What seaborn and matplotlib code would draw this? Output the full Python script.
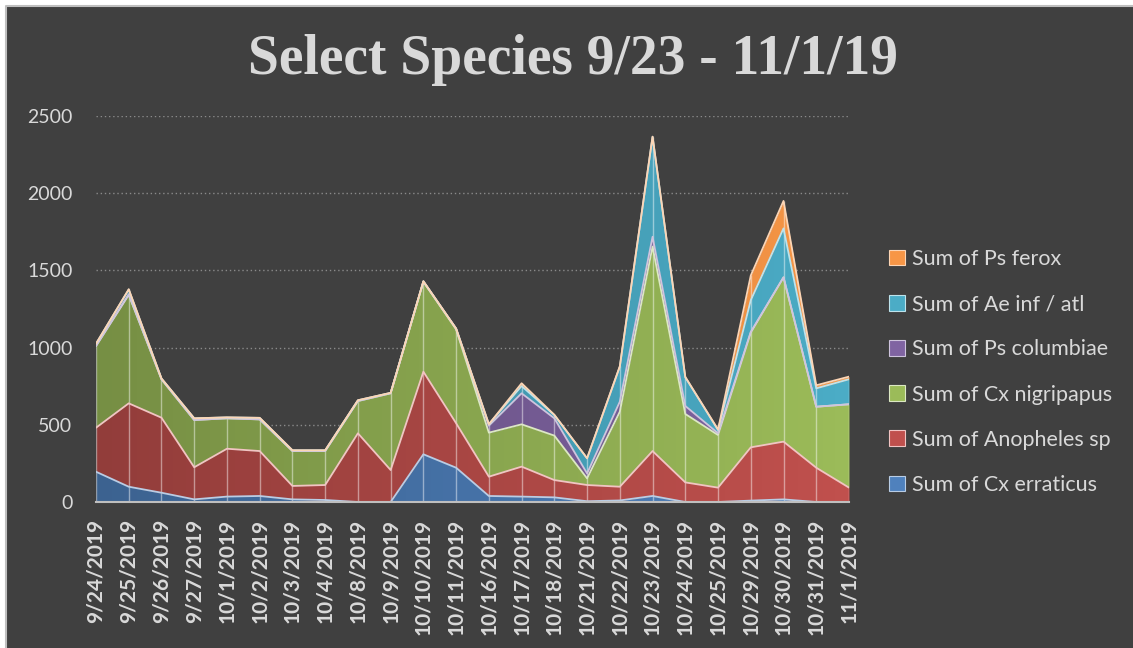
import numpy as np
import pandas as pd
import matplotlib
matplotlib.use("Agg")
import matplotlib.pyplot as plt
import seaborn as sns
from matplotlib.patches import Rectangle, Patch, Polygon
from matplotlib.lines import Line2D

# === Data ===
dates = ["9/24/2019", "9/25/2019", "9/26/2019", "9/27/2019", "10/1/2019", "10/2/2019",
         "10/3/2019", "10/4/2019", "10/8/2019", "10/9/2019", "10/10/2019", "10/11/2019",
         "10/16/2019", "10/17/2019", "10/18/2019", "10/21/2019", "10/22/2019", "10/23/2019",
         "10/24/2019", "10/25/2019", "10/29/2019", "10/30/2019", "10/31/2019", "11/1/2019"]

cx_erraticus   = [196, 99, 60, 17, 35, 39, 17, 13, 0, 0, 309, 222,
                  39, 35, 30, 5, 10, 39, 0, 0, 9, 17, 0, 0]
anopheles_sp   = [285, 540, 486, 208, 310, 291, 87, 97, 445, 207, 535, 288,
                  125, 194, 112, 105, 89, 291, 127, 93, 345, 374, 222, 93]
cx_nigripapus  = [529, 702, 249, 306, 197, 205, 226, 220, 209, 497, 583, 608,
                  285, 274, 288, 43, 486, 1324, 443, 341, 743, 1064, 395, 540]
ps_columbiae   = [0, 5, 0, 0, 0, 0, 0, 0, 0, 0, 0, 5,
                  45, 201, 112, 32, 65, 64, 52, 11, 5, 0, 0, 0]
ae_inf_atl     = [15, 30, 5, 11, 6, 10, 5, 5, 5, 3, 3, 0,
                  10, 47, 21, 98, 226, 648, 186, 21, 205, 317, 119, 162]
ps_ferox       = [0, 2, 0, 0, 0, 0, 0, 0, 0, 0, 0, 0,
                  0, 18, 2, 0, 4, 0, 2, 4, 160, 178, 20, 17]

series_names = ["Sum of Cx erraticus", "Sum of Anopheles sp", "Sum of Cx nigripapus",
                "Sum of Ps columbiae", "Sum of Ae inf / atl", "Sum of Ps ferox"]
fill_colors = ["#4F81BD", "#C0504D", "#9BBB59", "#8064A2", "#4BACC6", "#F79646"]
edge_colors = ["#B9CDE5", "#F2C4C3", "#DCE8C4", "#CFC4DE", "#BEE3EC", "#FCD5B5"]

# === Build tables ===
df = pd.DataFrame({"date": dates,
                   series_names[0]: cx_erraticus,
                   series_names[1]: anopheles_sp,
                   series_names[2]: cx_nigripapus,
                   series_names[3]: ps_columbiae,
                   series_names[4]: ae_inf_atl,
                   series_names[5]: ps_ferox})
x = np.arange(len(dates))
values = df[series_names].to_numpy().T
cum = np.cumsum(values, axis=0)
total = cum[-1]

cum_long = pd.DataFrame(cum.T, columns=series_names)
cum_long["x"] = x
cum_long = cum_long.melt(id_vars="x", var_name="series", value_name="top")

# === Style ===
sns.set_style("dark")
plt.rcParams["font.family"] = ["Lato", "DejaVu Sans"]
bg = "#404040"
txt = "#D9D9D9"

fig = plt.figure(figsize=(11.33, 6.48), dpi=100, facecolor=bg)
# white margin on top/left with the chart border, as in the cropped Excel chart
fx, fy = 6 / 1133, 1 - 6 / 648
fig.patches.append(Rectangle((0, fy), 1, 1 - fy, transform=fig.transFigure,
                             facecolor="white", edgecolor="none", zorder=-5))
fig.patches.append(Rectangle((0, 0), fx, 1, transform=fig.transFigure,
                             facecolor="white", edgecolor="none", zorder=-5))
fig.lines.append(Line2D([fx, fx, 1], [0, fy, fy], transform=fig.transFigure,
                        color="#BFBFBF", linewidth=1.5))

ax = fig.add_axes([96 / 1133, 1 - 502 / 648, (849 - 96) / 1133, (502 - 116) / 648])
ax.set_facecolor("none")

# stacked areas
ax.stackplot(x, values, colors=fill_colors, linewidth=0, zorder=2)

# left-to-right darkening like the Excel gradient fill
grad = np.zeros((1, 256, 4))
grad[0, :, 3] = np.linspace(0.24, 0.0, 256)
im = ax.imshow(grad, extent=(0, len(dates) - 1, 0, 2500), aspect="auto",
               interpolation="bilinear", zorder=3)
outline = Polygon(np.column_stack([np.r_[x, x[::-1]], np.r_[total, np.zeros_like(total)]]),
                  closed=True, transform=ax.transData)
im.set_clip_path(outline)

# vertical light lines at each category
ax.vlines(x, 0, total, color="white", alpha=0.45, linewidth=1, zorder=4)

# light edge on each series top
sns.lineplot(data=cum_long, x="x", y="top", hue="series", hue_order=series_names,
             palette=edge_colors, linewidth=1.3, legend=False, ax=ax, zorder=5)

ax.set_xlim(0, len(dates) - 1)
ax.set_ylim(0, 2500)
ax.set_yticks(np.arange(0, 2501, 500))
ax.set_xticks(x)
ax.set_xticklabels(dates, rotation=90, fontweight="bold", fontsize=15, color=txt)
ax.tick_params(axis="y", length=0, pad=17, labelsize=14, labelcolor=txt)
ax.tick_params(axis="x", length=0, pad=12)
ax.set_xlabel("")
ax.set_ylabel("")

ax.grid(False)
for yv in range(500, 2501, 500):
    ax.axhline(yv, color="#8A8A8A", linestyle=(0, (1, 2)), linewidth=1, zorder=1)
for s in ["top", "right", "left"]:
    ax.spines[s].set_visible(False)
ax.spines["bottom"].set_color("#BFBFBF")
ax.spines["bottom"].set_linewidth(1.5)
ax.spines["bottom"].set_zorder(6)

# title
fig.text(573 / 1133, 1 - 74 / 648, "Select Species 9/23 - 11/1/19",
         ha="center", va="baseline", fontsize=40, fontweight="bold",
         color=txt, family=["Liberation Serif", "DejaVu Serif"])

# legend (reverse order, top = Ps ferox)
handles = [Patch(facecolor=fill_colors[i], edgecolor=edge_colors[i], linewidth=0.8,
                 label=series_names[i]) for i in range(len(series_names) - 1, -1, -1)]
fig.legend(handles=handles, loc="upper left", bbox_to_anchor=(889 / 1133, 1 - 249 / 648),
           frameon=False, fontsize=15.5, labelcolor=txt, handlelength=0.75,
           handleheight=0.75, handletextpad=0.3, labelspacing=1.17,
           borderpad=0, borderaxespad=0)

fig.savefig("out.png", dpi=100, facecolor=bg)
